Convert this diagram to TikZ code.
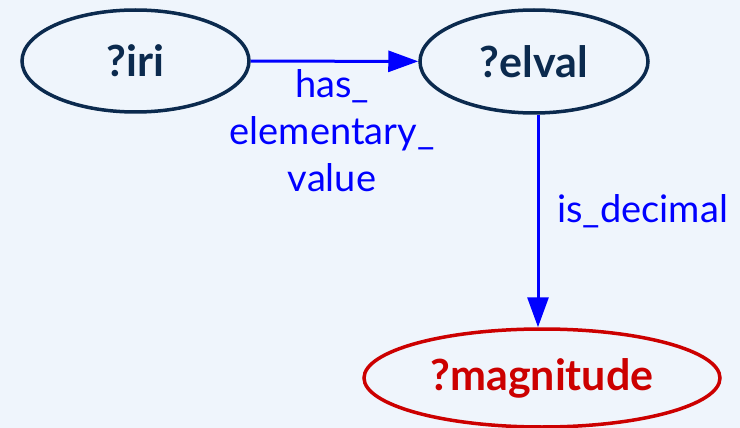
\documentclass[tikz,border=0pt]{standalone}
\usepackage{fontspec}
\setmainfont{Lato}
\usetikzlibrary{shapes.geometric,arrows.meta}
\definecolor{bgc}{HTML}{EFF5FC}
\definecolor{navy}{HTML}{0B2A4E}
\definecolor{redc}{HTML}{CC0000}
\definecolor{bluec}{HTML}{0000FF}
\tikzset{
  varnode/.style={ellipse, draw=navy, line width=3.5pt, inner sep=0pt, text=navy, font=\fontsize{43}{50}\selectfont\bfseries},
  rednode/.style={varnode, draw=redc, text=redc},
  link/.style={draw=bluec, line width=3pt, -{Triangle[length=30pt,width=21pt]}},
  lbl/.style={text=bluec, font=\fontsize{38}{47}\selectfont, inner sep=0pt}
}
\begin{document}
\begin{tikzpicture}[x=1pt,y=-1pt]
\fill[bgc] (0,0) rectangle (740,428);
\useasboundingbox (0,0) rectangle (740,428);
\node[varnode, minimum width=227pt, minimum height=102pt] (iri) at (135.5,61) {?iri};
\node[varnode, minimum width=228pt, minimum height=103pt] (elval) at (534,61.5) {?elval};
\node[rednode, minimum width=356pt, minimum height=98pt] (mag) at (542,378) {?magnitude};
\draw[link] (iri) -- (elval);
\coordinate (top) at (538,113);
\draw[link] (elval.south -| top) -- (mag.north -| top);
\node[lbl, align=center] (l1) at (332,131) {has\_\\elementary\_\\value};
\node[lbl, anchor=west] (l2) at (557,211) {is\_decimal};
\end{tikzpicture}
\end{document}
